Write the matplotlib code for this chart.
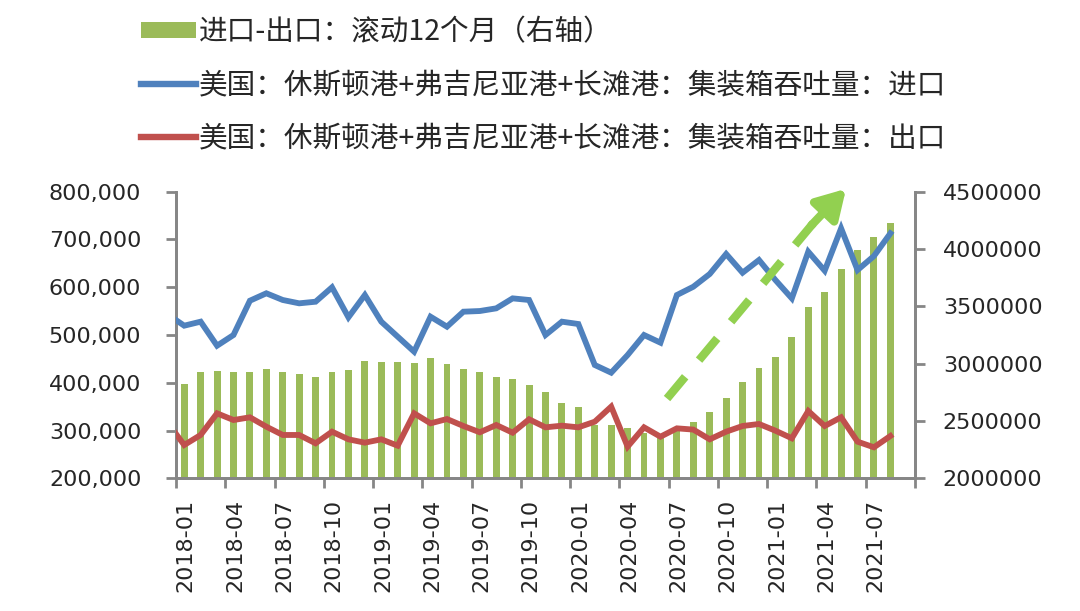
import matplotlib
matplotlib.use("Agg")
import matplotlib.pyplot as plt
import pandas as pd
from matplotlib.lines import Line2D
from matplotlib.patches import Patch
from matplotlib.ticker import FuncFormatter, FixedLocator

###############################################################################
months = list(pd.date_range("2018-01", periods=44, freq="MS").strftime("%Y-%m"))

# import / export container throughput (left axis), 2018-01 .. 2021-08
imports = [519500, 527900, 477600, 500000, 571800, 587300, 573300, 566300, 569700, 599800,
           537000, 583700, 527900, 496500, 465100, 538300, 517400, 548800, 550200, 555800,
           576700, 573300, 500000, 527900, 523000, 437200, 421100, 458100, 500000, 483900,
           583700, 601000, 627700, 669600, 630400, 657000, 615100, 576700, 674400, 634600,
           723300, 636000, 665300, 712800]
exports = [269700, 290700, 336000, 322000, 327700, 308100, 290700, 290700, 273200, 297600,
           281600, 274600, 281600, 268300, 336000, 315100, 324100, 309500, 296300, 311600,
           295500, 323500, 306700, 310200, 306700, 318500, 350000, 266200, 306700, 287100,
           304600, 302000, 281600, 297600, 309500, 313700, 299700, 283800, 340900, 309500,
           327700, 276700, 264900, 288600]
# value of 2017-12, only the piece up to the axis is visible
imports_prev = 543000
exports_prev = 316000

# import - export, rolling 12 months (right axis)
balance = [2822000, 2924000, 2935500, 2924000, 2924000, 2950000, 2929000, 2909000, 2885700, 2924000,
           2944000, 3022600, 3016600, 3016600, 3002600, 3046000, 2996500, 2950000, 2924000, 2885700,
           2865500, 2816000, 2752000, 2659000, 2624000, 2464000, 2464000, 2435000, 2391700, 2362000,
           2420500, 2487700, 2575000, 2702500, 2839500, 2964000, 3060000, 3234600, 3491000, 3627400,
           3825400, 3991300, 4102000, 4224000]

labels = ["进口-出口：滚动12个月（右轴）",
          "美国：休斯顿港+弗吉尼亚港+长滩港：集装箱吞吐量：进口",
          "美国：休斯顿港+弗吉尼亚港+长滩港：集装箱吞吐量：出口"]
###############################################################################

GREEN = "#9BBB59"
BLUE = "#4F81BD"
RED = "#C0504D"
ARROW = "#92D050"
GREY = "#868686"
TEXT = "#262626"
TICKFONT = ["DejaVu Sans"]

plt.rcParams["font.family"] = ["Noto Sans CJK SC", "DejaVu Sans"]

fig = plt.figure(figsize=(10.8, 6.11), dpi=100)
ax = fig.add_axes([176 / 1080, 1 - 478.3 / 611, (915 - 176) / 1080, (478.3 - 191.7) / 611])
ax2 = ax.twinx()

x = list(range(len(months)))
ax2.bar(x, balance, width=0.42, color=GREEN, zorder=1)

xl = [-1] + x
ax.plot(xl, [imports_prev] + imports, color=BLUE, lw=4.2, solid_joinstyle="miter", zorder=3)
ax.plot(xl, [exports_prev] + exports, color=RED, lw=4.2, solid_joinstyle="miter", zorder=3)

ax.set_zorder(ax2.get_zorder() + 1)
ax.patch.set_visible(False)

ax.set_xlim(-0.5, 44.5)
ax.set_ylim(200000, 800000)
ax2.set_ylim(2000000, 4500000)
ax.set_yticks(range(200000, 800001, 100000))
ax2.set_yticks(range(2000000, 4500001, 500000))
ax.yaxis.set_major_formatter(FuncFormatter(lambda v, p: f"{int(v):,}"))
ax2.yaxis.set_major_formatter(FuncFormatter(lambda v, p: f"{int(v)}"))

# ticks on category borders, labels on category centres
ax.xaxis.set_major_locator(FixedLocator([i - 0.5 for i in range(0, 46, 3)]))
ax.xaxis.set_minor_locator(FixedLocator([i + 0.1 for i in range(0, 44, 3)]))
ax.set_xticklabels([], minor=False)
ax.set_xticklabels(months[::3], minor=True, rotation=90, family=TICKFONT, fontsize=16, color=TEXT)
ax.tick_params(axis="x", which="major", length=7, width=2, color=GREY, direction="out")
ax.tick_params(axis="x", which="minor", length=0, pad=15)

for a in (ax, ax2):
    a.spines["top"].set_visible(False)
    for s in ("left", "right", "bottom"):
        a.spines[s].set_color(GREY)
        a.spines[s].set_linewidth(2)
ax.tick_params(axis="y", length=7, width=2, color=GREY, pad=18, labelsize=16, labelcolor=TEXT)
ax2.tick_params(axis="y", length=7, width=2, color=GREY, pad=13, labelsize=16, labelcolor=TEXT)
for t in ax.get_yticklabels() + ax2.get_yticklabels():
    t.set_family(TICKFONT)

# green dashed trend arrow
ax.plot([29.4, 38.4], [367000, 738000], color=ARROW, lw=6, ls=(0, (3.4, 2.6)),
        solid_capstyle="butt", clip_on=False, zorder=4)
ax.annotate("", xy=(40.3, 806000), xytext=(38.2, 730000), annotation_clip=False, zorder=4,
            arrowprops=dict(arrowstyle="-|>,head_length=1.7,head_width=1.0", color=ARROW, lw=6,
                            shrinkA=0, shrinkB=0))

handles = [Patch(facecolor=GREEN, edgecolor="none"),
           Line2D([], [], color=BLUE, lw=4.6),
           Line2D([], [], color=RED, lw=4.6)]
fig.legend(handles, labels, loc="upper left", bbox_to_anchor=(130 / 1080, 1 - 6 / 611),
           frameon=False, fontsize=20.6, handlelength=1.9, handleheight=0.5,
           handletextpad=0.12, labelspacing=0.8, labelcolor=TEXT, borderaxespad=0)

fig.savefig("out.png", dpi=100)
